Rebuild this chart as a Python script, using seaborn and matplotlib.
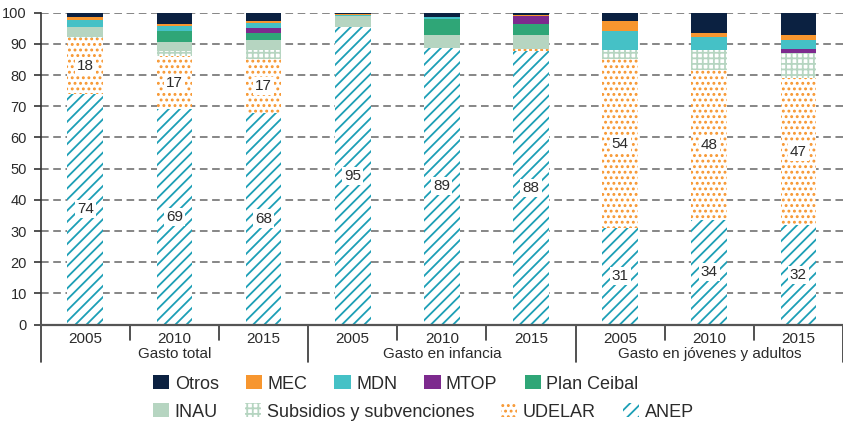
import numpy as np
import pandas as pd
import seaborn as sns
import matplotlib.pyplot as plt
import matplotlib.transforms as mtransforms
from matplotlib.patches import Patch

groups = ['Gasto total', 'Gasto en infancia', 'Gasto en jóvenes y adultos']
years = ['2005', '2010', '2015']
slots = [f'{g} {y}' for g in groups for y in years]

# share of spending (%), stacked bottom to top
anep = [74, 69, 68, 95.4, 88.8, 87.8, 31, 33.7, 32]
udelar = [18, 17, 17, 0, 0, 0.5, 54, 48, 47]
subsidios = [0.5, 1.6, 3.1, 0, 0, 0, 2.9, 6.4, 8.0]
inau = [3.0, 2.9, 3.2, 3.4, 4.1, 4.6, 0, 0, 0]
ceibal = [0, 3.5, 2.3, 0, 5.2, 3.5, 0, 0, 0]
mtop = [0, 0, 1.6, 0, 0, 2.4, 0, 0, 1.3]
mdn = [2.1, 1.8, 1.5, 0.6, 0.5, 0, 6.2, 4.0, 3.1]
mec = [1.0, 0.6, 0.6, 0.2, 0, 0.4, 3.1, 1.4, 1.5]
otros = [1.4, 3.6, 2.7, 0.4, 1.4, 0.8, 2.8, 6.5, 7.1]

series = ['ANEP', 'UDELAR', 'Subsidios y subvenciones', 'INAU', 'Plan Ceibal',
          'MTOP', 'MDN', 'MEC', 'Otros']
values = [anep, udelar, subsidios, inau, ceibal, mtop, mdn, mec, otros]

# (facecolor, hatch colour, hatch)
styles = {
    'Otros': ('#0b2141', '#0b2141', None),
    'MEC': ('#f7962f', '#f7962f', None),
    'MDN': ('#45c1c6', '#45c1c6', None),
    'MTOP': ('#7d2a8e', '#7d2a8e', None),
    'Plan Ceibal': ('#2fa677', '#2fa677', None),
    'INAU': ('#b6d5c1', '#b6d5c1', None),
    'Subsidios y subvenciones': ('white', '#b6d5c1', '+++'),
    'UDELAR': ('white', '#f7962f', '...'),
    'ANEP': ('white', '#1c9fb6', '///'),
}

df = pd.DataFrame(dict(zip(series, values)), index=slots)
cum = df.cumsum(axis=1)

sns.set_style('white')
plt.rcParams['font.family'] = ['Liberation Sans', 'DejaVu Sans']
plt.rcParams['hatch.linewidth'] = 1.3
text_col = '#2b2b2b'

fig = plt.figure(figsize=(8.43, 4.23), dpi=100)
ax = fig.add_axes([0.0483, 0.2324, 0.9517, 0.7376])

# draw cumulative totals from the top layer down so each layer covers the next
for name in reversed(series):
    face, hcol, hatch = styles[name]
    sns.barplot(x=slots, y=cum[name].values, order=slots, ax=ax, width=0.4,
                color=face, saturation=1, edgecolor=hcol, linewidth=0,
                hatch=hatch, errorbar=None, zorder=2)

# value labels for ANEP and UDELAR
for i in range(len(slots)):
    for name, prev in [('ANEP', 0), ('UDELAR', cum['ANEP'].iloc[i])]:
        v = df[name].iloc[i]
        if v >= 5:
            ax.text(i, prev + v / 2, f'{v:.0f}', ha='center', va='center',
                    fontsize=11, color=text_col, zorder=5,
                    bbox=dict(facecolor='white', edgecolor='none', pad=1.5))

ax.set_xlim(-0.5, len(slots) - 0.5)
ax.set_ylim(0, 100)
ax.set_yticks(range(0, 101, 10))
ax.set_xticks(range(len(slots)), years * len(groups))
ax.tick_params(axis='x', length=0, pad=5, labelsize=11, labelcolor=text_col)
ax.tick_params(axis='y', length=5, width=1.2, pad=5, labelsize=10.5,
               labelcolor=text_col, color='#333333', left=True)
ax.set_xlabel('')
ax.set_ylabel('')
ax.yaxis.grid(True, linestyle=(0, (5, 3)), color='#666666', linewidth=1.1)
ax.xaxis.grid(False)
ax.set_axisbelow(True)
for s in ['top', 'right']:
    ax.spines[s].set_visible(False)
ax.spines['left'].set_color('#333333')
ax.spines['left'].set_linewidth(1.2)
ax.spines['bottom'].set_color('#555555')
ax.spines['bottom'].set_linewidth(1.6)
ax.spines['bottom'].set_zorder(4)

# group separators below the axis
trans = mtransforms.blended_transform_factory(ax.transData, ax.transAxes)
for k in range(len(slots) + 1):
    x = k - 0.5
    y_end = -0.12 if k % 3 == 0 else -0.05
    ax.plot([x, x], [0, y_end], transform=trans, color='#333333', lw=1.2,
            clip_on=False)
for g, name in enumerate(groups):
    ax.text(g * 3 + 1, -0.093, name, transform=trans, ha='center', va='center',
            fontsize=11, color=text_col)

# legend in two rows
def handle(name):
    face, hcol, hatch = styles[name]
    return Patch(facecolor=face, edgecolor=hcol, hatch=hatch, linewidth=0)

rows = [['Otros', 'MEC', 'MDN', 'MTOP', 'Plan Ceibal'],
        ['INAU', 'Subsidios y subvenciones', 'UDELAR', 'ANEP']]
for r, (row, ypix) in enumerate(zip(rows, [384, 412])):
    leg = fig.legend([handle(n) for n in row], row, ncol=len(row),
                     loc='center left', bbox_to_anchor=(153 / 843, 1 - ypix / 423),
                     frameon=False, fontsize=13, borderpad=0, borderaxespad=0,
                     handlelength=0.9, handleheight=0.8, handletextpad=0.3,
                     columnspacing=1.5, labelcolor=text_col)

fig.savefig('out.png', dpi=100)
